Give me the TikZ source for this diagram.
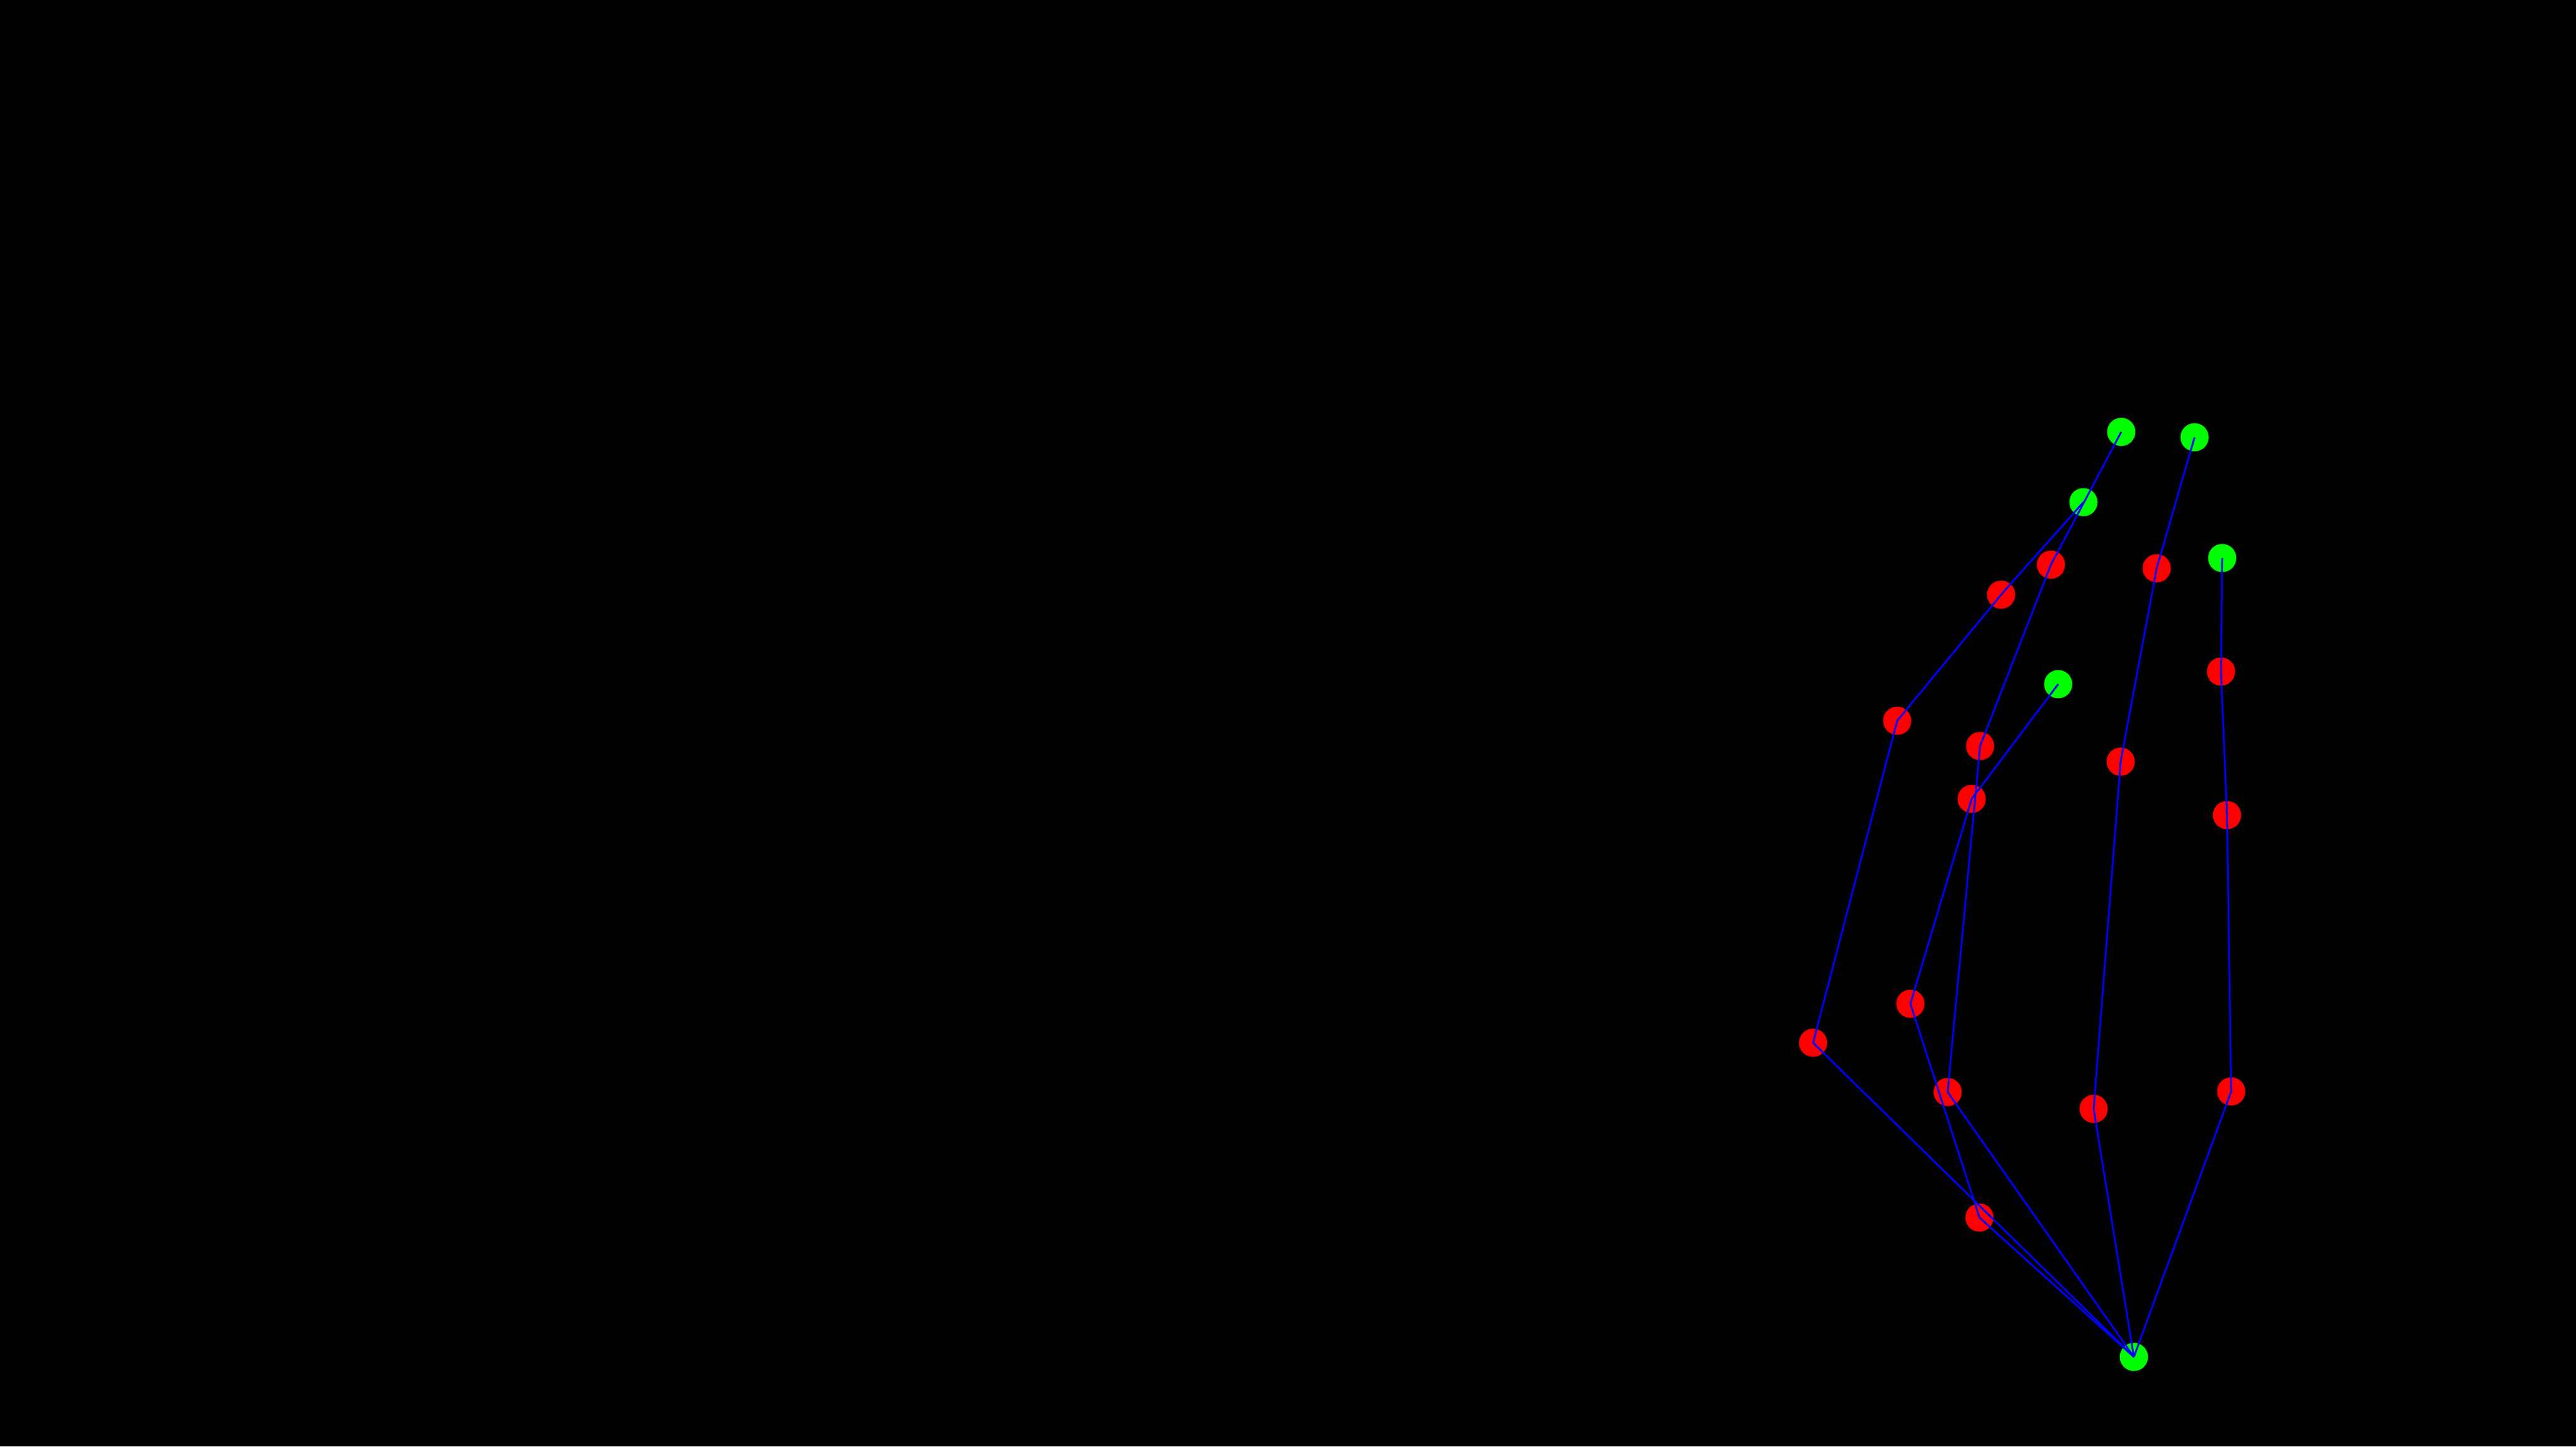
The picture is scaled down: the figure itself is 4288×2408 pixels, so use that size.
\documentclass[tikz,border=0pt]{standalone}
\begin{document}
\begin{tikzpicture}[x=0.01cm,y=-0.01cm,
  kp/.style={circle,inner sep=0pt,minimum size=0.47cm,draw=none},
  tipkp/.style={kp,fill={rgb,255:red,0;green,255;blue,0}},
  jointkp/.style={kp,fill={rgb,255:red,255;green,0;blue,0}},
  bone/.style={draw={rgb,255:red,0;green,0;blue,255},line width=0.85pt}]
\fill[black] (0,0) rectangle (4288,2408);
\useasboundingbox (0,0) rectangle (4288,2408);
% wrist
\node[tipkp] (w) at (3552,2259) {};
% thumb
\node[jointkp] (t1) at (3295,2027) {};
\node[jointkp] (t2) at (3180,1671) {};
\node[jointkp] (t3) at (3282,1330) {};
\node[tipkp] (t4) at (3426,1139) {};
% index
\node[jointkp] (i1) at (3018,1736) {};
\node[jointkp] (i2) at (3158,1200) {};
\node[jointkp] (i3) at (3331,990) {};
\node[tipkp] (i4) at (3468,836) {};
% middle
\node[jointkp] (m1) at (3242,1818) {};
\node[jointkp] (m2) at (3296,1242) {};
\node[jointkp] (m3) at (3414,940) {};
\node[tipkp] (m4) at (3531,719) {};
% ring
\node[jointkp] (r1) at (3485,1846) {};
\node[jointkp] (r2) at (3530,1268) {};
\node[jointkp] (r3) at (3590,946) {};
\node[tipkp] (r4) at (3653,728) {};
% pinky
\node[jointkp] (p1) at (3714,1817) {};
\node[jointkp] (p2) at (3707,1357) {};
\node[jointkp] (p3) at (3697,1118) {};
\node[tipkp] (p4) at (3699,929) {};
% bones
\draw[bone] (w.center) -- (t1.center) -- (t2.center) -- (t3.center) -- (t4.center);
\draw[bone] (w.center) -- (i1.center) -- (i2.center) -- (i3.center) -- (i4.center);
\draw[bone] (w.center) -- (m1.center) -- (m2.center) -- (m3.center) -- (m4.center);
\draw[bone] (w.center) -- (r1.center) -- (r2.center) -- (r3.center) -- (r4.center);
\draw[bone] (w.center) -- (p1.center) -- (p2.center) -- (p3.center) -- (p4.center);
\end{tikzpicture}
\end{document}
